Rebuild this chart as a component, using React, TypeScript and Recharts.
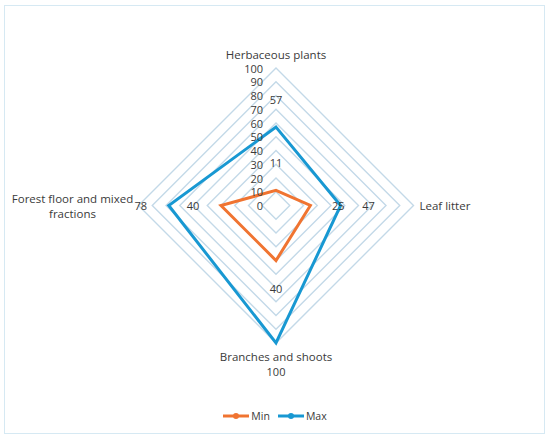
import React from 'react';
import {
  RadarChart, Radar, PolarGrid, PolarAngleAxis, PolarRadiusAxis, Legend, LabelList,
} from 'recharts';

// Categorias (sentido horario a partir do topo)
const categories = [
  'Herbaceous plants',
  'Leaf litter',
  'Branches and shoots',
  'Forest floor and mixed fractions',
];
const minValues = [11, 25, 40, 40];
const maxValues = [57, 47, 100, 78];
const radiusTicks = [0, 10, 20, 30, 40, 50, 60, 70, 80, 90, 100];

const MIN_COLOR = '#f07431';
const MAX_COLOR = '#1898d2';
const TEXT = '#3a3a3a';
const FONT = '"Open Sans", "DejaVu Sans", sans-serif';

const CX = 276;
const CY = 205.5;
const R = 137.5;

const data = categories.map((c, i) => ({ category: c, min: minValues[i], max: maxValues[i] }));

// quebra simples por largura aproximada (caracteres)
function wrap(text: string, maxChars: number): string[] {
  const words = text.split(' ');
  const lines: string[] = [];
  let cur = '';
  for (const w of words) {
    const next = cur ? `${cur} ${w}` : w;
    if (next.length > maxChars && cur) {
      lines.push(cur);
      cur = w;
    } else cur = next;
  }
  if (cur) lines.push(cur);
  return lines;
}

const AngleTick = (props: any) => {
  const angle = (props.payload.coordinate * Math.PI) / 180;
  const vx = CX + R * Math.cos(angle);
  const vy = CY - R * Math.sin(angle);
  const c = Math.cos(angle);
  const s = Math.sin(angle);
  const common = { fill: TEXT, fontSize: 11.5, fontFamily: FONT };
  if (s > 0.5) {
    return <text x={vx} y={vy - 14} textAnchor="middle" dominantBaseline="central" {...common}>{props.payload.value}</text>;
  }
  if (s < -0.5) {
    return <text x={vx} y={vy + 13.5} textAnchor="middle" dominantBaseline="central" {...common}>{props.payload.value}</text>;
  }
  if (c > 0) {
    return <text x={vx + 6} y={vy} textAnchor="start" dominantBaseline="central" {...common}>{props.payload.value}</text>;
  }
  const lines = wrap(props.payload.value, 22);
  const lh = 15;
  const y0 = vy - ((lines.length - 1) * lh) / 2;
  return (
    <text x={vx - 66} y={y0} textAnchor="middle" dominantBaseline="central" {...common}>
      {lines.map((l, i) => (
        <tspan key={i} x={vx - 66} dy={i === 0 ? 0 : lh}>{l}</tspan>
      ))}
    </text>
  );
};

const RadiusTick = (props: any) => (
  <text
    x={props.x - 13}
    y={props.y}
    textAnchor="end"
    dominantBaseline="central"
    fill={TEXT}
    fontSize={11}
    fontFamily={FONT}
  >
    {props.payload.value}
  </text>
);

// rotulos deslocados pra fora do centro (como no Excel)
const OutLabel = (props: any) => {
  const { x, y, value } = props;
  const dx = x - CX;
  const dy = y - CY;
  const len = Math.sqrt(dx * dx + dy * dy) || 1;
  const off = 28;
  return (
    <text
      x={x + (dx / len) * off}
      y={y + (dy / len) * off}
      textAnchor="middle"
      dominantBaseline="central"
      fill={TEXT}
      fontSize={11}
      fontFamily={FONT}
    >
      {value}
    </text>
  );
};

const LegendIcon = ({ color }: { color: string }) => (
  <svg width={26} height={8} style={{ marginRight: 2 }}>
    <line x1={0} y1={4} x2={26} y2={4} stroke={color} strokeWidth={3} />
    <circle cx={13} cy={4} r={3} fill={color} />
  </svg>
);

const LegendContent = () => (
  <div style={{ display: 'flex', justifyContent: 'center', gap: 8, fontFamily: FONT, fontSize: 10.5, color: TEXT }}>
    <div style={{ display: 'flex', alignItems: 'center' }}><LegendIcon color={MIN_COLOR} />Min</div>
    <div style={{ display: 'flex', alignItems: 'center' }}><LegendIcon color={MAX_COLOR} />Max</div>
  </div>
);

export default function App() {
  return (
    <div style={{ position: 'absolute', left: 0, top: 0, width: 550, height: 440, background: '#fff' }}>
      <div
        style={{
          position: 'absolute', left: 4, top: 5, width: 541, height: 429,
          border: '1.5px solid #d6e9f3', boxSizing: 'border-box',
        }}
      />
      <div style={{ position: 'absolute', left: 0, top: 0 }}>
        <RadarChart width={550} height={440} data={data} cx={CX} cy={CY} outerRadius={R}>
          <PolarGrid gridType="polygon" radialLines={false} stroke="#c3d9e8" strokeWidth={1.4} />
          <PolarAngleAxis dataKey="category" tick={<AngleTick />} tickLine={false} axisLine={false} />
          <PolarRadiusAxis
            angle={90}
            domain={[0, 100]}
            ticks={radiusTicks}
            tickCount={11}
            tick={<RadiusTick />}
            axisLine={false}
            tickLine={false}
          />
          <Radar
            name="Min"
            dataKey="min"
            stroke={MIN_COLOR}
            strokeWidth={3}
            fill="none"
            fillOpacity={0}
            dot={{ r: 4, fill: MIN_COLOR, stroke: MIN_COLOR, strokeWidth: 0 }}
            isAnimationActive={false}
          >
            <LabelList dataKey="min" content={<OutLabel />} />
          </Radar>
          <Radar
            name="Max"
            dataKey="max"
            stroke={MAX_COLOR}
            strokeWidth={3}
            fill="none"
            fillOpacity={0}
            dot={{ r: 4, fill: MAX_COLOR, stroke: MAX_COLOR, strokeWidth: 0 }}
            isAnimationActive={false}
          >
            <LabelList dataKey="max" content={<OutLabel />} />
          </Radar>
          <Legend content={<LegendContent />} wrapperStyle={{ top: 409, left: 0, width: 550 }} />
        </RadarChart>
      </div>
    </div>
  );
}
